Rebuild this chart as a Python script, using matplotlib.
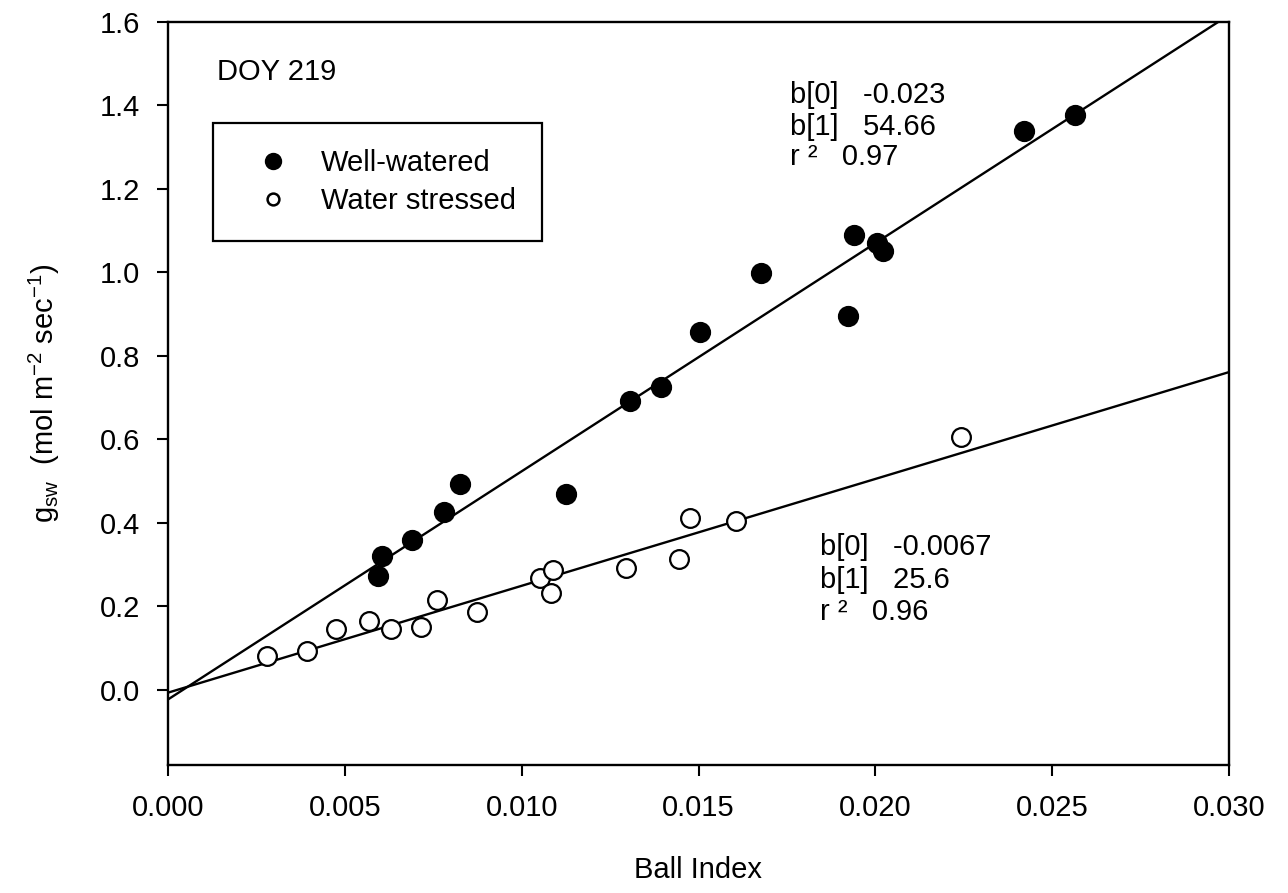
import numpy as np
from matplotlib import pyplot as plt

""" Stomatal conductance vs Ball index, DOY 219
"""

plt.rcParams['font.family'] = ['Liberation Sans', 'DejaVu Sans']
plt.rcParams['mathtext.fontset'] = 'custom'
plt.rcParams['mathtext.rm'] = 'Liberation Sans'
plt.rcParams['mathtext.it'] = 'Liberation Sans:italic'

PARAMS = {
    "fs": 21,  # font-size
}

# well-watered (filled circles)
ww_ball = [0.00593, 0.00605, 0.00689, 0.00780, 0.00825, 0.01124, 0.01305, 0.01393,
           0.01503, 0.01678, 0.01924, 0.01941, 0.02006, 0.02023, 0.02421, 0.02565]
ww_gsw = [0.273, 0.321, 0.359, 0.426, 0.493, 0.469, 0.692, 0.726,
          0.857, 0.999, 0.896, 1.090, 1.071, 1.051, 1.339, 1.377]

# water stressed (open circles)
ws_ball = [0.00280, 0.00393, 0.00475, 0.00568, 0.00630, 0.00715, 0.00760, 0.00873,
           0.01051, 0.01088, 0.01082, 0.01294, 0.01444, 0.01477, 0.01605, 0.02243]
ws_gsw = [0.081, 0.093, 0.146, 0.165, 0.146, 0.151, 0.216, 0.187,
          0.268, 0.287, 0.232, 0.292, 0.314, 0.412, 0.405, 0.606]

# regression coefficients b[0], b[1], r2
ww_fit = [-0.023, 54.66, 0.97]
ws_fit = [-0.0067, 25.6, 0.96]

fig = plt.figure(figsize=(12.88, 8.93), dpi=100)
ax = fig.add_axes([168/1288, 1-765/893, (1229-168)/1288, (765-22)/893])

xl = np.array([0.0, 0.030])
ax.plot(xl, ww_fit[0] + ww_fit[1]*xl, color='black', lw=1.7, zorder=2)
ax.plot(xl, ws_fit[0] + ws_fit[1]*xl, color='black', lw=1.7, zorder=2)

ax.plot(ww_ball, ww_gsw, 'o', ms=14, mfc='black', mec='black', mew=1.3,
        label='Well-watered', zorder=3)
ax.plot(ws_ball, ws_gsw, 'o', ms=13.5, mfc='white', mec='black', mew=1.6,
        label='Water stressed', zorder=3)

ax.set_xlim(0.0, 0.030)
ax.set_ylim(-0.18, 1.6)
ax.set_xticks(np.arange(0, 0.0301, 0.005))
ax.set_yticks(np.arange(0, 1.61, 0.2))
ax.set_xticklabels(['%.3f' % v for v in ax.get_xticks()])
ax.set_yticklabels(['%.1f' % v for v in ax.get_yticks()])
ax.tick_params(direction='out', length=8, width=1.5, labelsize=PARAMS['fs'], pad=12)
ax.tick_params(axis='x', pad=13)
for sp in ax.spines.values():
    sp.set_linewidth(1.7)

ax.set_xlabel('Ball Index', fontsize=PARAMS['fs'], labelpad=24)
ax.set_ylabel(r'g$_{\rm sw}$  (mol m$^{-2}$ sec$^{-1}$)', fontsize=PARAMS['fs'], labelpad=27)

ax.text(0.00139, 1.480, 'DOY 219', fontsize=PARAMS['fs'], va='center')

leg = ax.legend(loc='upper left', bbox_to_anchor=(0.0424, 0.864), borderaxespad=0,
                fancybox=False, edgecolor='black', fontsize=PARAMS['fs'],
                markerscale=0.8, borderpad=0.9, handletextpad=0.5,
                labelspacing=0.33, handlelength=2.3, framealpha=1)
leg.get_frame().set_linewidth(1.6)
leg.legend_handles[1].set_markersize(8.5)
leg.legend_handles[1].set_markeredgewidth(1.8)

# fit statistics
ax.text(0.01759, 1.425, 'b[0]   %s' % ww_fit[0], fontsize=PARAMS['fs'], va='center')
ax.text(0.01759, 1.349, 'b[1]   %s' % ww_fit[1], fontsize=PARAMS['fs'], va='center')
ax.text(0.01759, 1.277, 'r ²   %s' % ww_fit[2], fontsize=PARAMS['fs'], va='center')

ax.text(0.01843, 0.3425, 'b[0]   %s' % ws_fit[0], fontsize=PARAMS['fs'], va='center')
ax.text(0.01843, 0.2635, 'b[1]   %s' % ws_fit[1], fontsize=PARAMS['fs'], va='center')
ax.text(0.01843, 0.187, 'r ²   %s' % ws_fit[2], fontsize=PARAMS['fs'], va='center')

plt.savefig('out.png', dpi=100)
